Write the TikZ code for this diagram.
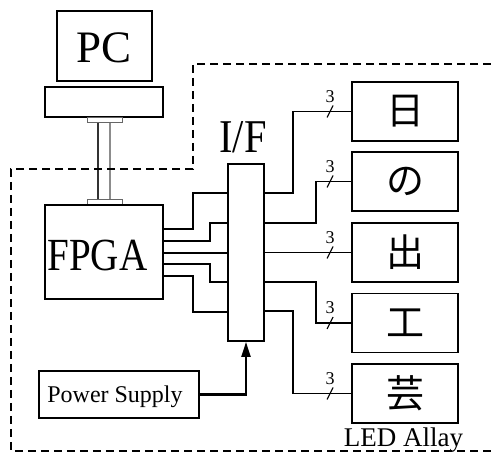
\documentclass[tikz,border=0pt]{standalone}
\usepackage{fontspec}
\setmainfont{Liberation Serif}
\newfontfamily\cjk{Noto Sans CJK JP}
\usetikzlibrary{arrows.meta,calc}
\begin{document}
\begin{tikzpicture}[x=1pt,y=-1pt,
  blk/.style={draw,line width=1.8pt,inner sep=0pt},
  plate/.style={draw=black!60,line width=0.9pt,inner sep=0pt,minimum width=35pt,minimum height=5pt},
  conn/.style={line width=1.7pt},
  bound/.style={line width=2pt,dash pattern=on 8pt off 5pt},
  led/.style={blk,minimum width=106pt,minimum height=59pt,font=\cjk\fontsize{38}{38}\selectfont},
  bus/.style={line width=1.1pt},
  buslbl/.style={font=\fontsize{18}{18}\selectfont,inner sep=0pt},
  arr/.style={line width=2.2pt,-{Triangle[length=15pt,width=9pt]}}]
\useasboundingbox (0,0) rectangle (491,454);
% PC
\node[blk,minimum width=95pt,minimum height=70pt] (pc) at (104.5,46) {};
\node[font=\fontsize{45}{45}\selectfont,inner sep=0pt] (pct) at (104,48) {PC};
\node[blk,minimum width=118pt,minimum height=30pt] (base) at (104,102) {};
\node[plate,anchor=north] (p1) at (104.5,117) {};
\node[plate,anchor=south] (p2) at (104.5,204.5) {};
\draw[line width=1.1pt,black!80] (p1.south -| 98,0) -- (p2.north -| 98,0);
\draw[line width=1.1pt,black!45] (p1.south -| 110,0) -- (p2.north -| 110,0);
% boundary
\draw[bound] (491,64) -- (193,64) -- (193,169) -- (11,169) -- (11,451) -- (491,451);
% FPGA
\node[blk,minimum width=118pt,minimum height=94pt] (fpga) at (104,252) {};
\node[font=\fontsize{46}{46}\selectfont,inner sep=0pt,xscale=0.85] (fpgat) at (97.5,255) {FPGA};
% I/F
\node[blk,fill=white,minimum width=36pt,minimum height=177pt] (if) at (246,252.5) {};
\node[font=\fontsize{47}{47}\selectfont,inner sep=0pt,xscale=0.86] (ift) at (243,137) {I/F};
% left connectors
\draw[conn] (fpga.east |- 0,229) -| (193,193) -- (if.west |- 0,193);
\draw[conn] (fpga.east |- 0,241) -| (210,223) -- (if.west |- 0,223);
\draw[conn] (fpga.east |- 0,253) -- (if.west |- 0,253);
\draw[conn] (fpga.east |- 0,264) -| (210,282) -- (if.west |- 0,282);
\draw[conn] (fpga.east |- 0,276) -| (193,312) -- (if.west |- 0,312);
% LED boxes
\node[led] (l1) at (405,111.5) {日};
\node[led] (l2) at (405,181.5) {の};
\node[led] (l3) at (405,252.5) {出};
\node[led] (l4) at (405,323) {工};
\node[led] (l5) at (405,393.5) {芸};
% right connectors
\draw[conn] (if.east |- 0,193) -| (293,111.5) -- (l1.west);
\draw[conn] (if.east |- 0,223) -| (316,181.5) -- (l2.west);
\draw[conn] (if.east |- 0,252.5) -- (l3.west);
\draw[conn] (if.east |- 0,282) -| (316,323) -- (l4.west);
\draw[conn] (if.east |- 0,311) -| (293,393.5) -- (l5.west);
\foreach \n in {l1,l2,l3,l4,l5}{
  \draw[bus] ($(\n.west)+(-24,6)$) -- ($(\n.west)+(-18,-6)$);
  \node[buslbl] (\n lbl) at ($(\n.west)+(-21,-15)$) {3};
}
% Power supply
\node[blk,line width=1.5pt,minimum width=160pt,minimum height=47pt] (ps) at (119,394.5) {};
\node[font=\fontsize{24}{24}\selectfont,inner sep=0pt] (pst) at (115,397) {Power Supply};
\draw[arr] (ps.east) -| (if.south);
% LED Allay
\node[font=\fontsize{27}{27}\selectfont,inner sep=0pt,anchor=base] (ledt) at (403.5,447) {LED Allay};
\end{tikzpicture}
\end{document}
